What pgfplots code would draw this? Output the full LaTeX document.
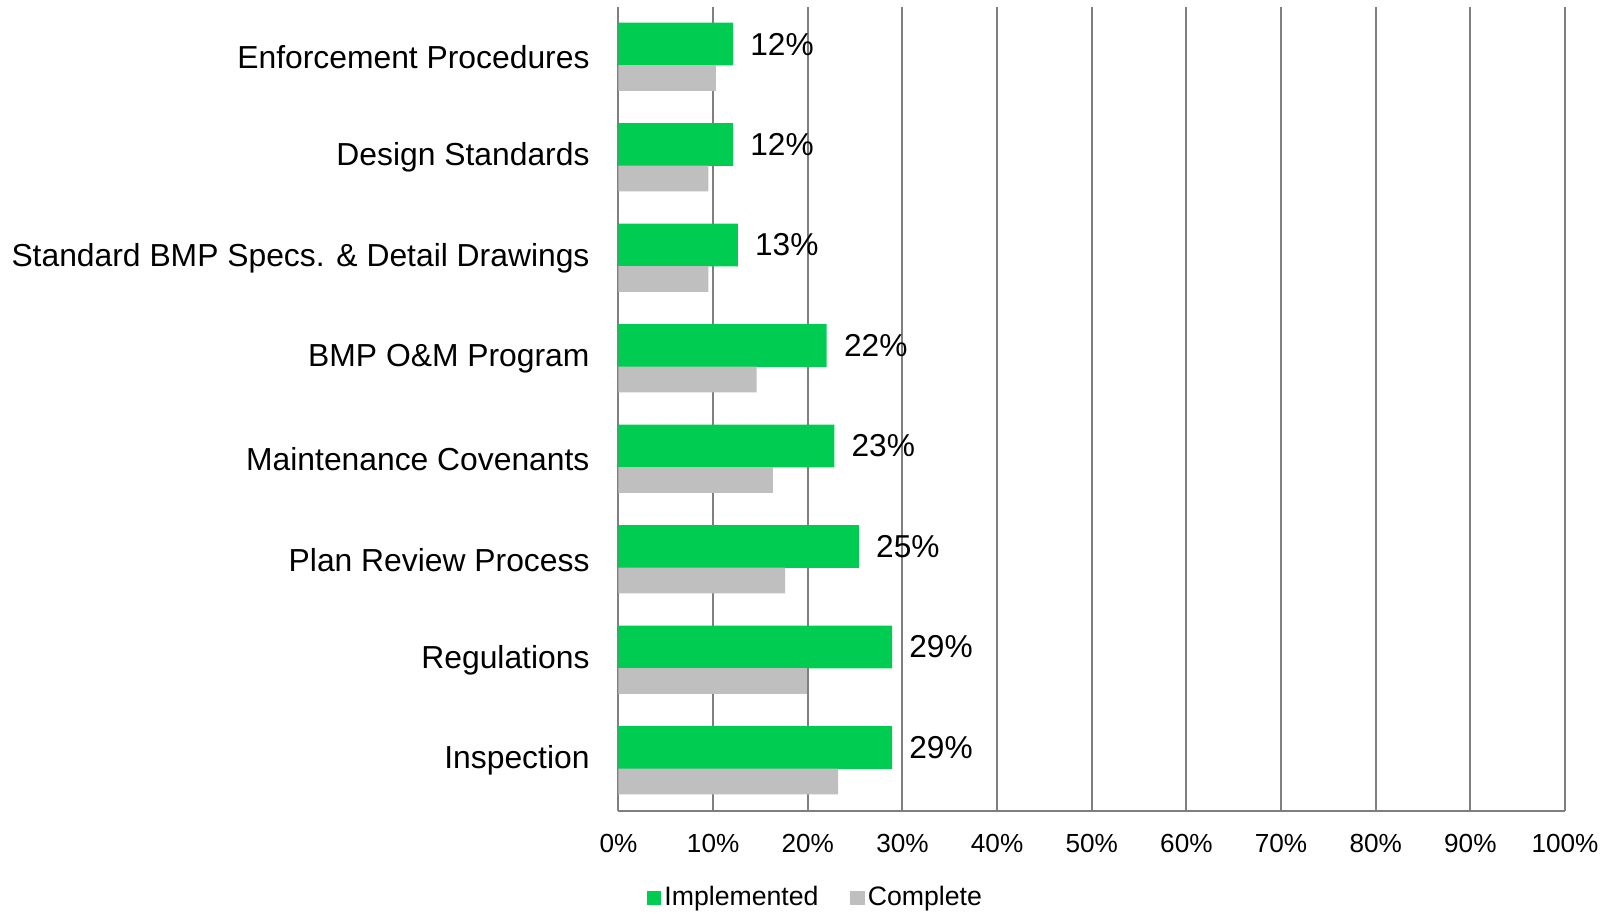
\documentclass[border=0pt]{standalone}
\usepackage{pgfplots}
\pgfplotsset{compat=1.18}
\usepackage{fontspec}
\setmainfont{Liberation Sans}

\definecolor{implgreen}{HTML}{00CC52}
\definecolor{compgray}{HTML}{BFBFBF}
\definecolor{gridgray}{HTML}{7F7F7F}

\begin{document}
\begin{tikzpicture}
  \begin{axis}[
      scale only axis,
      width=283.95pt,
      height=241.2pt,
      xbar,
      xmin=0, xmax=100,
      ymin=-0.5, ymax=7.5,
      xtick={0,10,...,100},
      xticklabel={\pgfmathprintnumber{\tick}\%},
      /pgf/number format/assume math mode=true,
      ytick={0,...,7},
      yticklabels={Inspection, Regulations, Plan Review Process,
        Maintenance Covenants, BMP O\&M Program,
        Standard BMP Specs. \& Detail Drawings,
        Design Standards, Enforcement Procedures},
      major tick length=0pt,
      axis x line=bottom,
      axis y line=left,
      axis line style={-, draw=gridgray, line width=0.6pt},
      xmajorgrids,
      major grid style={draw=gridgray, line width=0.6pt},
      yticklabel style={anchor=east, inner sep=0pt, xshift=-8.5pt,
        font=\fontsize{9.55}{11}\selectfont},
      xticklabel style={anchor=north, inner sep=0pt, yshift=-6.9pt,
        font=\fontsize{7.85}{9}\selectfont},
      legend style={at={(rel axis cs:0.2087,-0.108)}, anchor=center,
        draw=none, legend columns=-1, inner sep=0pt,
        font=\fontsize{8}{9.5}\selectfont,
        nodes={inner sep=1pt},
        /tikz/every even column/.append style={column sep=8.5pt}},
      legend image code/.code={\fill[#1, draw=none] (0pt,-2.15pt) rectangle (4.3pt,2.15pt);},
    ]
    \addplot[fill=implgreen, draw=none, bar width=12.8pt, bar shift=3.96pt,
      nodes near coords={\pgfmathprintnumber[fixed,precision=0]{\pgfplotspointmeta}\%},
      nodes near coords style={anchor=west, inner sep=0pt, xshift=5pt,
        font=\fontsize{9.5}{11}\selectfont, text=black}]
      coordinates {(28.9,0) (28.9,1) (25.4,2) (22.8,3) (22.0,4) (12.6,5) (12.1,6) (12.1,7)};
    \addplot[fill=compgray, draw=none, bar width=7.7pt, bar shift=-6.24pt]
      coordinates {(23.2,0) (19.9,1) (17.6,2) (16.3,3) (14.6,4) (9.5,5) (9.5,6) (10.3,7)};
    \legend{Implemented, Complete}
  \end{axis}
  \pgfresetboundingbox
  \path[use as bounding box]
    ([shift={(-185.55pt,-30.6pt)}]current axis.south west)
    rectangle ([shift={(14.7pt,2.1pt)}]current axis.north east);
\end{tikzpicture}
\end{document}
